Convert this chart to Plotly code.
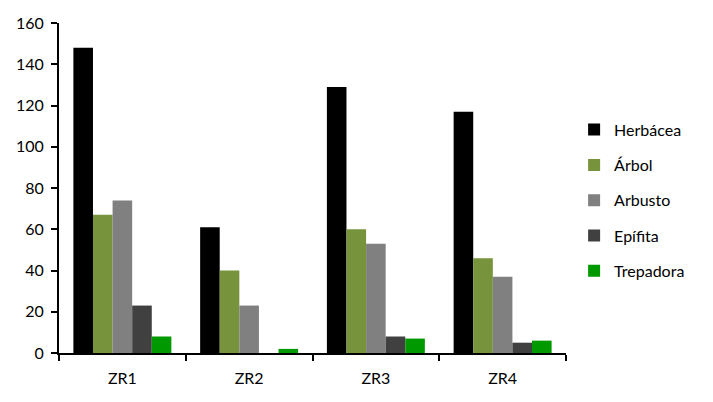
import plotly.graph_objects as go

categories = ["ZR1", "ZR2", "ZR3", "ZR4"]
herbacea = [148, 61, 129, 117]
arbol = [67, 40, 60, 46]
arbusto = [74, 23, 53, 37]
epifita = [23, 0, 8, 5]
trepadora = [8, 2, 7, 6]

series = [
    ("Herbácea", herbacea, "#000000"),
    ("Árbol", arbol, "#77933C"),
    ("Arbusto", arbusto, "#808080"),
    ("Epífita", epifita, "#404040"),
    ("Trepadora", trepadora, "#009900"),
]

fig = go.Figure()
for name, vals, col in series:
    fig.add_trace(go.Bar(x=categories, y=vals, name=name, marker_color=col,
                         marker_line_width=0, legendgroup=name))

font = dict(family="Lato, Carlito, Liberation Sans, sans-serif", size=16, color="#000000")
fig.update_layout(
    width=713, height=402,
    margin=dict(l=51, r=155, t=15, b=57, autoexpand=False),
    paper_bgcolor="white", plot_bgcolor="white",
    barmode="group", bargap=0.227, bargroupgap=0,
    font=font,
    showlegend=True,
    legend=dict(x=1.016, xanchor="left", y=0.463, yanchor="middle",
                tracegroupgap=11.5, font=font, bgcolor="rgba(0,0,0,0)",
                itemclick=False),
    xaxis=dict(showline=True, linecolor="black", linewidth=2, ticks="outside",
               tickson="boundaries", ticklen=6, tickwidth=2, tickcolor="black",
               ticklabelstandoff=10, automargin=False,
               showgrid=False, zeroline=False),
    yaxis=dict(range=[0, 160], dtick=20, showline=True, linecolor="black", linewidth=2,
               ticks="outside", ticklen=6, tickwidth=2, tickcolor="black",
               ticklabelstandoff=4, automargin=False,
               showgrid=False, zeroline=False),
)
fig.write_html("out.html")
